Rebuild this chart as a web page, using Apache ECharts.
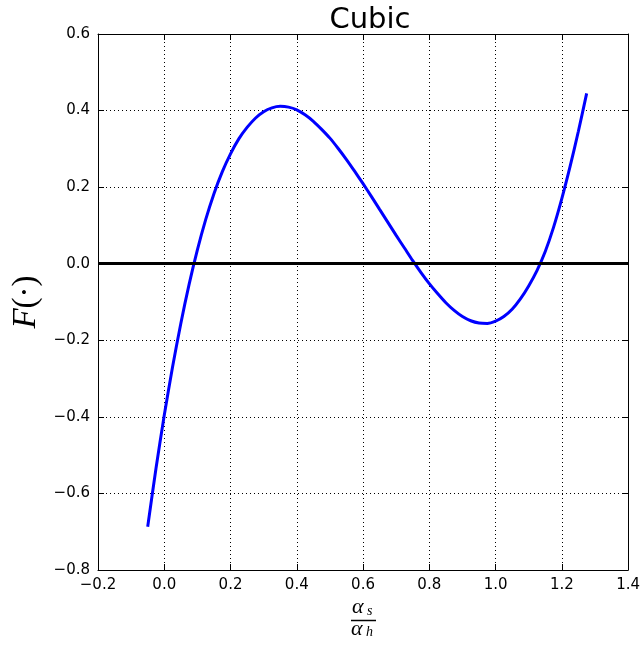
<!DOCTYPE html>
<html>
<head>
<meta charset="utf-8">
<script src="https://cdn.jsdelivr.net/npm/echarts@6/dist/echarts.min.js"></script>
<style>
  html, body { margin: 0; padding: 0; background: #fff; }
  #chart { width: 643px; height: 645px; }
</style>
</head>
<body>
<div id="chart"></div>
<script>
// values, every 0.025 on x
const xVals = [-0.05, -0.025, 0.0, 0.025, 0.05, 0.075, 0.1, 0.125, 0.15, 0.175,
  0.2, 0.225, 0.25, 0.275, 0.3, 0.325, 0.35, 0.375, 0.4, 0.425,
  0.45, 0.475, 0.5, 0.525, 0.55, 0.575, 0.6, 0.625, 0.65, 0.675,
  0.7, 0.725, 0.75, 0.775, 0.8, 0.825, 0.85, 0.875, 0.9, 0.925,
  0.95, 0.975, 1.0, 1.025, 1.05, 1.075, 1.1, 1.125, 1.15, 1.175,
  1.2, 1.225, 1.25, 1.275]
const fVals = [-0.687, -0.535, -0.396, -0.270, -0.156, -0.054, 0.036, 0.115, 0.183, 0.240,
  0.287, 0.326, 0.356, 0.380, 0.397, 0.407, 0.411, 0.409, 0.402, 0.389,
  0.372, 0.351, 0.328, 0.301, 0.272, 0.241, 0.209, 0.176, 0.142, 0.108,
  0.074, 0.041, 0.008, -0.023, -0.052, -0.078, -0.102, -0.122, -0.138, -0.149,
  -0.155, -0.156, -0.150, -0.138, -0.119, -0.092, -0.058, -0.018, 0.032, 0.095,
  0.170, 0.254, 0.346, 0.445]
const zeroLine = [0]

const xRange = [-0.2, 1.4]
const yRange = [-0.8, 0.6]
const step = 0.2

const fmt = v => v.toFixed(1).replace('-', '\u2212')

const labelFont = { fontFamily: 'DejaVu Sans', fontSize: 15, color: '#000' }
const mathFont = 'Liberation Serif'

const valueAxis = (pos, showLabels, range) => ({
  type: 'value',
  position: pos,
  min: range[0],
  max: range[1],
  interval: step,
  axisLine: { show: true, onZero: false, lineStyle: { color: '#000', width: 1 } },
  axisTick: { show: true, inside: true, length: 6, lineStyle: { color: '#000', width: 1 } },
  axisLabel: Object.assign({ show: showLabels, formatter: fmt, margin: 8 }, labelFont),
  splitLine: showLabels
    ? { show: true, lineStyle: { color: '#000', width: 1, type: [1, 3] } }
    : { show: false }
})

const getOption = () => {
  const points = xVals.map((x, i) => [x, fVals[i]])

  return {
    animation: false,
    backgroundColor: '#fff',
    title: {
      text: 'Cubic',
      left: 365,
      textAlign: 'center',
      top: 1,
      textStyle: { fontFamily: 'DejaVu Sans', fontSize: 29, fontWeight: 'normal', color: '#000' }
    },
    grid: { left: 98, right: 10, top: 34, bottom: 75, containLabel: false },
    xAxis: [
      valueAxis('bottom', true, xRange),
      valueAxis('top', false, xRange)
    ],
    yAxis: [
      Object.assign(valueAxis('left', true, yRange), {
        name: '{f|F}{p|(·)}',
        nameLocation: 'middle',
        nameRotate: 90,
        nameGap: 53,
        nameTextStyle: {
          rich: {
            f: { fontFamily: mathFont, fontStyle: 'italic', fontSize: 33, color: '#000' },
            p: { fontFamily: mathFont, fontSize: 33, color: '#000' }
          }
        }
      }),
      valueAxis('right', false, yRange)
    ],
    graphic: [
      { type: 'text', left: 352, top: 596, style: { text: 'α', font: 'italic 22px "Liberation Serif"', fill: '#000' } },
      { type: 'text', left: 367, top: 604, style: { text: 's', font: 'italic 14px "Liberation Serif"', fill: '#000' } },
      { type: 'line', shape: { x1: 351, y1: 620.5, x2: 376, y2: 620.5 }, style: { stroke: '#000', lineWidth: 1.5 } },
      { type: 'text', left: 351, top: 618, style: { text: 'α', font: 'italic 22px "Liberation Serif"', fill: '#000' } },
      { type: 'text', left: 366, top: 625, style: { text: 'h', font: 'italic 14px "Liberation Serif"', fill: '#000' } }
    ],
    series: [
      {
        name: 'F',
        type: 'line',
        data: points,
        smooth: 0.3,
        showSymbol: false,
        lineStyle: { color: '#0000ff', width: 3 },
        markLine: {
          silent: true,
          symbol: 'none',
          label: { show: false },
          lineStyle: { color: '#000', width: 3, type: 'solid' },
          data: zeroLine.map(v => ({ yAxis: v }))
        }
      }
    ]
  }
}

const chart = echarts.init(document.getElementById('chart'))
chart.setOption(getOption())
</script>
</body>
</html>
